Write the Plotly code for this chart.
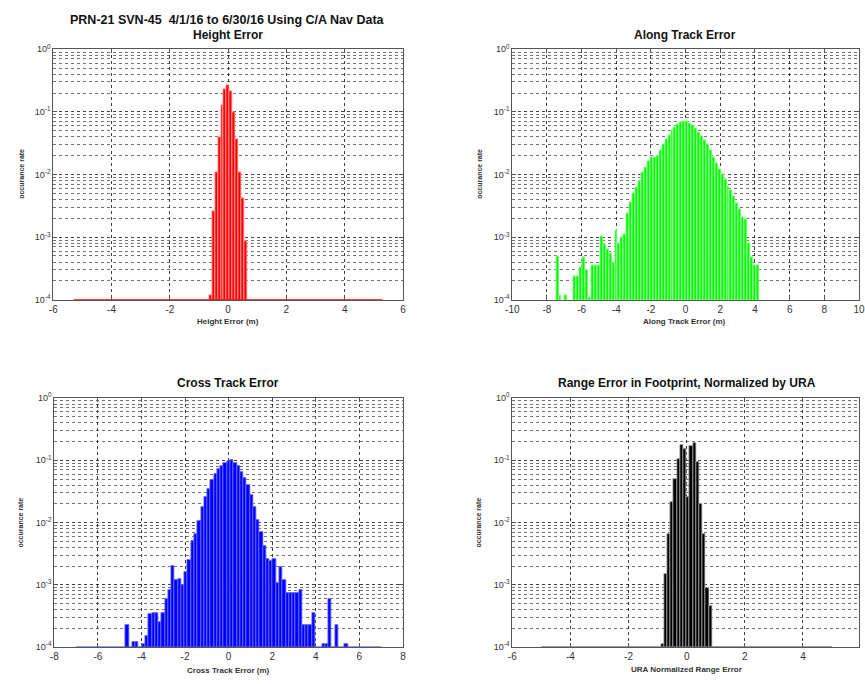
import plotly.graph_objects as go

# ---------------- data ----------------
height_x = [-0.6, -0.5, -0.4, -0.3, -0.2, -0.1, 0.0, 0.1, 0.2, 0.3, 0.4, 0.5, 0.6]
height_y = [1.2e-4, 2.6e-3, 0.011, 0.04, 0.13, 0.23, 0.27, 0.21, 0.10, 0.037, 0.011, 4.2e-3, 8.5e-4]
height_span = [-5.3, 5.3]

along_x = [round(-7.40 + 0.17 * k, 2) for k in range(69)]
along_y = [5.0e-4, 1.2e-4, 0, 1.2e-4, 0, 0, 2.4e-4, 2.4e-4, 3.3e-4, 4.7e-4,
           3.0e-4, 1.1e-4, 3.5e-4, 3.5e-4, 3.5e-4, 1.05e-3, 7.6e-4, 6.5e-4, 5.5e-4, 4.0e-4,
           1.3e-3, 8.0e-4, 1.0e-3, 1.1e-3, 2.4e-3, 3.6e-3, 5.0e-3, 6.3e-3, 7.9e-3, 0.0108,
           0.013, 0.0165, 0.0186, 0.019, 0.0195, 0.024, 0.030, 0.036, 0.042, 0.050,
           0.057, 0.064, 0.069, 0.071, 0.070, 0.066, 0.061, 0.054, 0.048, 0.041,
           0.035, 0.030, 0.024, 0.019, 0.0150, 0.0120, 0.0100, 0.0085, 0.0065, 0.0056,
           0.0045, 0.0035, 0.0028, 0.0021, 0.0019, 8.1e-4, 4.7e-4, 3.5e-4, 3.5e-4]

cross_x = [round(0.15 * m, 2) for m in range(-31, 37)]
cross_y = [2.3e-4, 0, 1.2e-4, 1.2e-4, 0, 1.1e-4, 1.5e-4, 3.4e-4, 3.5e-4, 3.5e-4,
           2.5e-4, 3.5e-4, 5.9e-4, 8.4e-4, 2.0e-3, 1.2e-3, 1.25e-3, 1.0e-3, 1.6e-3, 2.5e-3,
           5.0e-3, 6.5e-3, 0.0105, 0.018, 0.026, 0.035, 0.048, 0.061, 0.073, 0.081,
           0.089, 0.097, 0.100, 0.090, 0.082, 0.066, 0.052, 0.040, 0.028, 0.018,
           0.011, 7.0e-3, 4.2e-3, 2.6e-3, 2.4e-3, 2.6e-3, 1.05e-3, 1.95e-3, 1.2e-3, 7.4e-4,
           7.4e-4, 7.4e-4, 7.4e-4, 8.3e-4, 2.3e-4, 2.3e-4, 2.3e-4, 3.5e-4, 0, 0,
           1.1e-4, 1.1e-4, 6.0e-4, 0, 2.3e-4, 0, 0, 1.1e-4]
cross_span = [-7.0, 7.0]

range_x = [-0.83, -0.72, -0.61, -0.50, -0.39, -0.28, -0.17, -0.06, 0.05, 0.16,
           0.27, 0.38, 0.49, 0.60, 0.71, 0.82]
range_y = [1.1e-4, 1.5e-3, 6.5e-3, 0.021, 0.05, 0.105, 0.175, 0.15, 0.026, 0.17,
           0.19, 0.093, 0.02, 6.5e-3, 9.0e-4, 4.6e-4]
range_span = [-5.0, 5.0]

x_ticks_6 = [-6, -4, -2, 0, 2, 4, 6]
x_ticks_8 = [-8, -6, -4, -2, 0, 2, 4, 6, 8]
x_ticks_10 = [-10, -8, -6, -4, -2, 0, 2, 4, 6, 8, 10]

y_tickvals = [1e-4, 1e-3, 1e-2, 1e-1, 1]
y_ticktext = ["10<sup>-4</sup>", "10<sup>-3</sup>", "10<sup>-2</sup>", "10<sup>-1</sup>", "10<sup>0</sup>"]

main_title = "PRN-21 SVN-45  4/1/16 to 6/30/16 Using C/A Nav Data"
panel_titles = ["Height Error", "Along Track Error", "Cross Track Error",
                "Range Error in Footprint, Normalized by URA"]
x_titles = ["Height Error (m)", "Along Track Error (m)", "Cross Track Error (m)",
            "URA Normalized Range Error"]
y_title = "occurance rate"

# ---------------- figure ----------------
W, H = 865, 684
FONT = "Arial, Liberation Sans, sans-serif"
fig = go.Figure()

def px_x(p):
    return p / W

def px_y(p):
    return 1 - p / H

panels = [
    dict(x=height_x, y=height_y, w=0.1, color="#ff0000", edge="rgba(255,170,170,1)",
         span=height_span, spancolor="#ff0000", xr=[-6, 6], ticks=x_ticks_6,
         dom_x=[px_x(47), px_x(402)], dom_y=[px_y(298), px_y(43)]),
    dict(x=along_x, y=along_y, w=0.17, color="#00ff00", edge="rgba(190,255,190,1)",
         span=None, spancolor=None, xr=[-10, 10], ticks=x_ticks_10,
         dom_x=[px_x(513), 1.0], dom_y=[px_y(298), px_y(43)]),
    dict(x=cross_x, y=cross_y, w=0.15, color="#0000ff", edge="rgba(110,110,255,1)",
         span=cross_span, spancolor="rgba(80,80,255,0.8)", xr=[-8, 8], ticks=x_ticks_8,
         dom_x=[px_x(48), px_x(402)], dom_y=[px_y(651.5), px_y(398)]),
    dict(x=range_x, y=range_y, w=0.11, color="#000000", edge="rgba(170,170,170,1)",
         span=range_span, spancolor="rgba(120,120,120,1)", xr=[-6, 5.93], ticks=x_ticks_6,
         dom_x=[px_x(513), 1.0], dom_y=[px_y(651.5), px_y(398)]),
]

minor_vals = [m * 10 ** e for e in range(-4, 0) for m in range(2, 10)]

for i, p in enumerate(panels):
    n = i + 1
    xa = "x" if n == 1 else f"x{n}"
    ya = "y" if n == 1 else f"y{n}"
    fig.add_trace(go.Bar(x=p["x"], y=p["y"], width=p["w"], xaxis=xa, yaxis=ya,
                         marker=dict(color=p["color"], line=dict(color=p["edge"], width=0.8)),
                         showlegend=False, hoverinfo="x+y"))
    if p["span"] is not None:
        fig.add_trace(go.Scatter(x=p["span"], y=[1e-4, 1e-4], mode="lines", xaxis=xa, yaxis=ya,
                                 line=dict(color=p["spancolor"], width=1.5),
                                 cliponaxis=False, showlegend=False, hoverinfo="skip"))
    axis_common = dict(showline=True, mirror="ticks", linecolor="#555555", linewidth=1,
                       ticks="inside", ticklen=4, tickcolor="#555555",
                       tickfont=dict(family=FONT, size=10, color="#333333"),
                       showgrid=True, gridcolor="rgba(0,0,0,0.75)", griddash="dot", gridwidth=1,
                       zeroline=False, layer="below traces")
    xkey = "xaxis" if n == 1 else f"xaxis{n}"
    ykey = "yaxis" if n == 1 else f"yaxis{n}"
    fig.update_layout({
        xkey: dict(axis_common, domain=p["dom_x"], range=p["xr"],
                   tickvals=p["ticks"], ticktext=[str(t) for t in p["ticks"]],
                   anchor=ya, ticklabeloverflow="allow"),
        ykey: dict(axis_common, domain=p["dom_y"], type="log", range=[-4, 0], anchor=xa,
                   tickvals=y_tickvals, ticktext=y_ticktext,
                   tickfont=dict(family=FONT, size=9, color="#333333"),
                   minor=dict(tickvals=minor_vals, showgrid=True, gridcolor="rgba(0,0,0,0.55)",
                              griddash="dot", gridwidth=1, ticks="")),
    })

annotations = []
annotations.append(dict(text="<b>" + main_title + "</b>", x=px_x(224), y=px_y(13), xref="paper",
                        yref="paper", showarrow=False, font=dict(family=FONT, size=12.5, color="#111"),
                        xanchor="center", yanchor="middle"))
title_pos = [(224, 29), (688, 29), (224, 383), (690, 383)]
for t, (tx, ty) in zip(panel_titles, title_pos):
    annotations.append(dict(text="<b>" + t + "</b>", x=px_x(tx), y=px_y(ty), xref="paper", yref="paper",
                            showarrow=False, font=dict(family=FONT, size=12, color="#111"),
                            xanchor="center", yanchor="middle"))
xt_pos = [(224, 320), (688, 320), (225, 675), (690, 674)]
for t, (tx, ty) in zip(x_titles, xt_pos):
    annotations.append(dict(text="<b>" + t + "</b>", x=px_x(tx), y=px_y(ty), xref="paper", yref="paper",
                            showarrow=False, font=dict(family=FONT, size=8, color="#333"),
                            xanchor="center", yanchor="middle"))
yt_pos = [(14, 170), (479, 170), (14, 525), (479, 525)]
for tx, ty in yt_pos:
    annotations.append(dict(text="<b>" + y_title + "</b>", x=px_x(tx), y=px_y(ty), xref="paper",
                            yref="paper", showarrow=False, textangle=-90,
                            font=dict(family=FONT, size=7, color="#333"),
                            xanchor="center", yanchor="middle"))

fig.update_layout(width=W, height=H, margin=dict(l=0, r=0, t=0, b=0),
                  paper_bgcolor="white", plot_bgcolor="white", bargap=0,
                  annotations=annotations, font=dict(family=FONT))

post = """
document.documentElement.style.cssText='margin:0;padding:0;overflow:hidden;width:865px;height:684px;';
document.body.style.cssText='margin:0;padding:0;overflow:hidden;width:865px;height:684px;';
var gds = document.getElementsByClassName('plotly-graph-div');
for (var i = 0; i < gds.length; i++) {
  gds[i].style.position = 'fixed';
  gds[i].style.left = '0px';
  gds[i].style.top = '0px';
}
"""

fig.write_html("out.html", config={"displayModeBar": False}, post_script=post)
